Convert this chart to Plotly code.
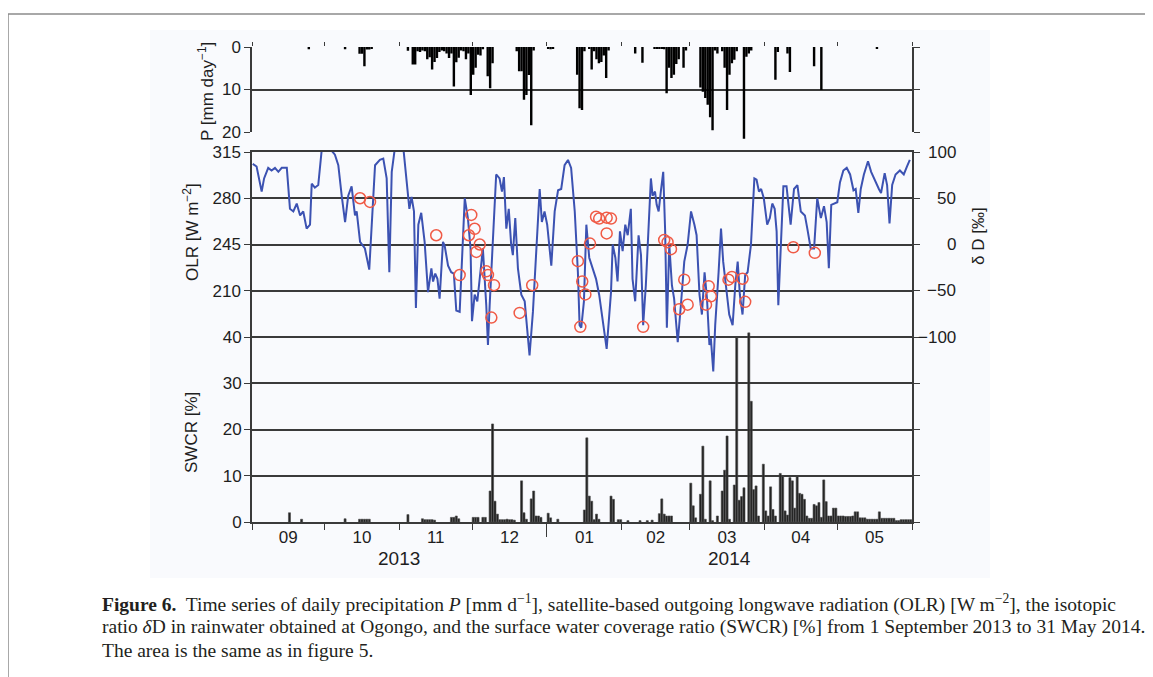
import pandas as pd
import plotly.graph_objects as go

START = pd.Timestamp("2013-09-01")
END = pd.Timestamp("2014-06-01")

# ---------------- data (days since 1 Sep 2013) ----------------
olr_day = [0.3, 1.9, 4.0, 5.0, 6.7, 8.1, 9.5, 10.9, 12.3, 14.4, 15.7, 17.1, 18.5, 19.9, 21.2, 22.6,
           24.0, 24.7, 26.0, 27.4, 28.8, 32.0, 34.3, 35.7, 37.1, 38.5, 39.8, 41.2, 42.6, 43.3, 44.7,
           46.7, 48.5, 49.5, 50.9, 52.9, 54.3, 55.7, 56.8, 57.8, 59.1, 62.6, 64.0, 65.1, 66.0, 67.0,
           67.8, 68.8, 70.0, 70.7, 71.4, 72.8, 74.2, 74.9, 75.8, 76.7, 77.6, 79.0, 79.7, 81.1, 82.4,
           83.5, 84.5, 85.9, 86.6, 88.0, 89.3, 90.4, 91.0, 92.1, 93.2, 94.2, 95.5, 96.9, 97.6, 98.3,
           99.7, 101.0, 102.4, 103.4, 104.2, 105.2, 106.2, 107.2, 107.9, 108.9, 110.0, 111.4, 112.8,
           114.1, 114.8, 116.2, 117.6, 119.0, 119.9, 121.0, 122.1, 123.8, 125.2, 126.6, 127.9, 129.3,
           130.7, 132.0, 133.5, 134.8, 135.5, 136.2, 137.3, 138.3, 139.5, 140.9, 142.3, 143.6, 145.7,
           146.7, 148.5, 149.2, 150.3, 151.2, 152.2, 153.3, 154.4, 155.4, 156.7, 157.4, 158.5, 159.9,
           160.9, 161.8, 162.9, 164.3, 165.0, 165.7, 166.7, 167.4, 168.2, 169.1, 170.1, 170.9, 171.6,
           172.6, 173.7, 174.6, 176.1, 177.4, 178.8, 180.2, 181.6, 183.0, 183.9, 185.1, 186.1, 187.2,
           188.2, 189.2, 189.8, 190.8, 191.6, 193.0, 194.0, 194.9, 196.0, 197.4, 198.8, 199.9, 200.9,
           201.8, 202.9, 204.0, 205.0, 206.4, 207.8, 208.7, 209.7, 210.6, 211.7, 213.1, 214.2, 215.2,
           216.2, 217.0, 217.7, 218.7, 219.8, 221.1, 222.8, 224.2, 225.6, 227.0, 228.7, 229.7, 231.1,
           232.5, 233.8, 235.3, 236.6, 237.7, 238.6, 239.6, 240.7, 242.1, 243.2, 244.6, 246.0, 247.4,
           248.8, 249.7, 250.8, 251.8, 253.1, 254.8, 256.1, 257.9, 259.3, 260.2, 261.7, 262.7, 263.7,
           264.8, 266.2, 268.0, 269.6, 270.9, 272.1]
olr_wm2 = [306, 304, 285, 295, 303, 301, 303, 300, 303, 303, 272, 270, 276, 267, 270, 257,
           260, 291, 288, 290, 316, 318, 313, 305, 282, 262, 282, 289, 267, 270, 247,
           242, 226, 260, 305, 309, 310, 295, 224, 300, 318, 318, 295, 272, 281, 270,
           197, 260, 269, 255, 247, 209, 227, 217, 223, 219, 204, 247, 244, 229, 224,
           223, 195, 194, 224, 280, 265, 242, 187, 207, 202, 219, 242, 199, 169, 199,
           245, 298, 295, 285, 296, 257, 272, 245, 237, 265, 227, 207, 202,
           171, 161, 194, 245, 287, 262, 270, 260, 229, 270, 286, 287, 305,
           309, 303, 270, 224, 184, 182, 202, 260, 235, 227, 219, 207, 179,
           166, 209, 245, 235, 217, 255, 240, 260, 252, 272, 219, 202, 252,
           237, 184, 214, 265, 295, 282, 285, 275, 270, 285, 300, 255, 182,
           245, 214, 204, 171, 199, 232, 245, 270, 260, 252, 207, 192, 224,
           204, 169, 174, 149, 184, 224, 257, 232, 212, 192, 184, 214, 232,
           207, 192, 222, 224, 245, 295, 294, 285, 287, 280, 260, 265, 276,
           272, 255, 199, 245, 289, 289, 260, 287, 290, 270, 267, 257, 242,
           242, 280, 265, 274, 262, 227, 275, 276, 277, 292, 301, 303, 298,
           286, 287, 269, 287, 298, 308, 300, 292, 287, 284, 299, 290, 261,
           290, 298, 301, 298, 304, 309]

dd_day = [44.7, 48.8, 76.2, 85.9, 89.7, 90.7, 92.1, 92.8, 94.2, 96.9, 97.6, 99.0, 100.1, 110.7,
          115.9, 134.8, 135.8, 136.6, 137.9, 139.8, 142.3, 143.6, 146.7, 146.7, 148.5, 161.8,
          170.5, 171.9, 173.3, 176.7, 178.8, 180.2, 187.8, 188.9, 189.8, 197.1, 198.5, 202.9,
          204.0, 223.9, 232.8]
dd_permil = [50, 46, 10, -33, 10, 32, 17, -8, 0, -29, -33, -79, -44, -74,
             -44, -18, -89, -40, -54, 1, 30, 28, 29, 12, 28, -89,
             5, 2.5, -5, -70, -38, -65, -65, -45, -56, -38, -35, -37,
             -62, -3, -9]

p_day = [23, 38, 44, 45, 46, 47, 48, 49, 64, 66, 67, 68, 69, 70, 71, 72, 73, 74, 75, 76, 77, 78,
         79, 80, 81, 82, 83, 84, 85, 86, 87, 88, 89, 90, 91, 92, 93, 94, 95, 97, 98, 99,
         109, 110, 111, 112, 113, 114, 115, 116, 122, 123, 124, 134, 135, 136, 137, 139, 140,
         141, 142, 143, 144, 145, 146, 147, 158, 161, 166, 167, 168, 169, 170, 171, 172, 173,
         174, 175, 176, 178, 179, 185, 186, 187, 188, 189, 190, 191, 192, 194, 195, 196, 197,
         198, 199, 200, 203, 204, 205, 206, 216, 217, 221, 222, 232, 235, 258]
p_mm = [0.5, 0.5, 1.6, 1.6, 4.5, 0.6, 0.6, 0.4, 0.9, 4.1, 4.1, 1.0, 1.2, 0.8, 1.0, 2.9, 2.4, 5.3,
        3.5, 2.6, 1.2, 0.8, 1.0, 1.5, 2.6, 1.5, 9.3, 3.6, 2.5, 0.8, 1.0, 2.9, 1.5, 11.3, 6.5,
        4.9, 1.8, 2.0, 0.5, 6.9, 9.7, 3.8,
        1.0, 5.7, 5.7, 12.4, 11.3, 6.6, 18.4, 0.8, 0.3, 0.5, 0.3, 6.5, 14.4, 14.8, 1.0, 0.3, 5.3,
        1.0, 2.9, 3.8, 3.5, 2.0, 7.3, 0.8, 1.5, 3.7, 0.3, 0.3, 0.4, 0.3, 0.5, 10.9, 4.9, 7.3,
        6.5, 4.0, 2.9, 4.9, 0.8, 9.5, 10.5, 12.0, 13.6, 16.5, 19.6, 0.8, 1.5, 1.0, 4.9, 14.8, 6.5,
        3.8, 3.0, 1.0, 21.6, 2.3, 1.5, 0.8, 7.7, 1.2, 1.5, 5.9, 4.5, 10.1, 0.4]

swcr_day = [15, 20, 38, 44, 45, 46, 47, 48, 64, 70, 71, 72, 73, 74, 75, 82, 83, 84, 85, 91, 92,
            93, 95, 96, 98, 99, 100, 101, 102, 103, 104, 105, 106, 107, 108, 111, 112, 113, 115,
            116, 117, 118, 119, 122, 123, 126, 137, 138, 139, 140, 141, 142, 143, 148, 149, 151,
            152, 155, 160, 163, 165, 168, 169, 170, 171, 172, 173, 181, 182, 183, 185, 186, 187,
            189, 190, 192, 194, 195, 196, 197, 199, 200, 201, 202, 203, 205, 206, 207, 208, 209,
            211, 212, 213, 214, 215, 216, 218, 219, 220, 221, 222, 223, 224, 225, 226, 227, 228,
            229, 230, 231, 232, 233, 234, 235, 236, 237, 238, 239, 240, 241, 242, 243, 244, 245,
            246, 247, 248, 249, 250, 251, 252, 253, 254, 255, 256, 257, 258, 259, 260, 261, 262,
            263, 264, 265, 266, 267, 268, 269, 270, 271, 272]
swcr_pct = [2.0, 0.6, 0.7, 0.6, 0.6, 0.6, 0.6, 0.6, 1.6, 0.7, 0.5, 0.5, 0.5, 0.5, 0.4, 1.0, 1.0,
            1.3, 0.7, 1.0, 1.0, 1.0, 1.0, 1.0, 6.7, 21.2, 4.5, 1.7, 0.5, 0.5, 0.5, 0.6, 0.5, 0.5,
            0.4, 8.9, 2.0, 0.6, 5.0, 6.7, 1.3, 1.3, 1.0, 1.9, 0.9, 0.6, 2.6, 18.2, 5.6, 4.5, 0.5,
            1.7, 0.6, 5.6, 4.9, 0.5, 0.5, 0.3, 0.3, 0.3, 0.4, 1.8, 5.0, 1.7, 1.3, 1.3, 1.3, 8.4,
            3.5, 0.9, 6.0, 16.4, 0.6, 8.9, 0.3, 1.3, 6.7, 11.2, 18.6, 0.6, 8.0, 39.8, 4.7, 5.5,
            7.4, 40.9, 26.1, 7.0, 7.8, 1.3, 12.5, 2.4, 1.3, 7.6, 2.7, 1.3, 10.5, 9.9, 2.4, 1.5,
            9.6, 8.9, 3.0, 9.9, 6.2, 6.0, 4.9, 1.3, 0.8, 0.8, 3.8, 3.5, 4.2, 1.0, 9.1, 4.4, 1.3,
            1.3, 3.0, 3.0, 1.3, 1.3, 1.3, 1.2, 1.2, 1.2, 1.3, 2.2, 2.2, 0.9, 0.9, 0.9, 0.6, 0.6,
            0.6, 0.6, 0.6, 2.2, 0.8, 0.8, 0.8, 0.8, 0.8, 0.8, 0.3, 0.3, 0.5, 0.5, 0.5, 0.5, 0.5]

olr_ticks = [210, 245, 280, 315]
olr_grid = [35, 70, 105, 140, 175, 210, 245, 280, 315]
swcr_ticks = [0, 10, 20, 30, 40]
dd_ticks = [-100, -50, 0, 50, 100]
p_ticks = [0, 10, 20]
P_AXIS_MAX = 20          # labelled extent of the precipitation axis
P_DRAW_MAX = 22          # bars may run slightly past the 20 mm line, as in the original


def to_dates(days, offset_days=0.0):
    return [START + pd.Timedelta(days=d + offset_days) for d in days]


DAY_MS = 86400000
# page body has an 8px margin; the figure is placed at (8, 8) in the window
PAGE_OFF = 8
W, H = 1153 - PAGE_OFF, 677 - PAGE_OFF
PLOT_L, PLOT_R, PLOT_T, PLOT_B = 252, 912, 47, 522   # window pixels of the plotting area
ML = PLOT_L - PAGE_OFF
MR = W - (PLOT_R - PAGE_OFF)
MT = PLOT_T - PAGE_OFF
MB = H - (PLOT_B - PAGE_OFF)
PW, PH = W - ML - MR, H - MT - MB


def px_x(px):
    return (px - PLOT_L) / PW


def px_y(py):
    return (PLOT_B - py) / PH


GRID = "#3a3a3a"
TXT = "#1e1e1e"
SANS = "Liberation Sans, Arial, sans-serif"
SERIF = "Liberation Serif, Times New Roman, serif"

P_TOP_PX, P_BOT_PX = 47, 132
p_bottom = px_y(P_BOT_PX)
p_draw_bottom = px_y(P_TOP_PX + (P_BOT_PX - P_TOP_PX) * P_DRAW_MAX / P_AXIS_MAX)
main_top = px_y(152)

fig = go.Figure()

fig.add_trace(go.Bar(x=to_dates(p_day, 0.5), y=p_mm, xaxis="x2", yaxis="y5",
                     width=DAY_MS, marker=dict(color="#000000", line=dict(width=0)),
                     showlegend=False))
fig.add_trace(go.Bar(x=to_dates(swcr_day, 0.5), y=swcr_pct, xaxis="x", yaxis="y3",
                     width=DAY_MS * 0.85,
                     marker=dict(color="#222222", line=dict(color="#4a4a4a", width=0.6)),
                     showlegend=False))
fig.add_trace(go.Scatter(x=to_dates(olr_day), y=olr_wm2, xaxis="x", yaxis="y2", mode="lines",
                         line=dict(color="#3c52b2", width=2), showlegend=False))
fig.add_trace(go.Scatter(x=to_dates(dd_day), y=dd_permil, xaxis="x", yaxis="y4", mode="markers",
                         marker=dict(symbol="circle-open", size=11, color="#f05a46",
                                     line=dict(width=1.5, color="#f05a46")),
                         showlegend=False))
# empty traces so the frame-only axes are drawn
fig.add_trace(go.Scatter(x=[], y=[], xaxis="x2", yaxis="y", showlegend=False))
fig.add_trace(go.Scatter(x=[], y=[], xaxis="x3", yaxis="y2", showlegend=False))

axis_common = dict(showline=True, linecolor=GRID, linewidth=1.5, tickcolor=GRID,
                   tickfont=dict(family=SANS, size=17, color=TXT))

fig.update_layout(
    width=W, height=H,
    margin=dict(l=ML, r=MR, t=MT, b=MB),
    paper_bgcolor="#ffffff",
    plot_bgcolor="rgba(0,0,0,0)",
    barmode="overlay",
    xaxis=dict(type="date", range=[START, END], domain=[0, 1], anchor="y2",
               tick0="2013-09-01", dtick="M1", tickformat="%m", ticklabelmode="period",
               ticks="outside", ticklen=6, ticklabelstandoff=-7, showgrid=False, mirror=True,
               **axis_common),
    xaxis2=dict(type="date", range=[START, END], domain=[0, 1], anchor="y", matches="x",
                side="top", tick0="2013-09-01", dtick="M1", ticks="outside", ticklen=4,
                showticklabels=False, showgrid=False, showline=False, tickcolor=GRID),
    xaxis3=dict(type="date", range=[START, END], overlaying="x", anchor="y2", side="bottom",
                tickvals=[pd.Timestamp("2014-01-01")], ticks="outside", ticklen=14,
                tickwidth=1.2, tickcolor=GRID, showticklabels=False, showgrid=False,
                showline=False),
    yaxis=dict(domain=[p_bottom, 1], range=[P_AXIS_MAX, 0], anchor="x2", tickvals=p_ticks,
               ticks="outside", ticklen=6, showgrid=True, gridcolor=GRID, gridwidth=1.5,
               zeroline=False, mirror="ticks", **axis_common),
    yaxis5=dict(domain=[p_draw_bottom, 1], range=[P_DRAW_MAX, 0], anchor="x2",
                visible=False, showgrid=False, zeroline=False),
    yaxis2=dict(domain=[0, main_top], range=[35, 315], anchor="x", tickvals=olr_grid,
                ticktext=[str(v) if v in olr_ticks else "" for v in olr_grid],
                ticks="outside", ticklen=6, showgrid=True, gridcolor=GRID, gridwidth=1.5,
                zeroline=False, mirror="ticks", **axis_common),
    yaxis3=dict(range=[0, 80], overlaying="y2", side="left", anchor="x", tickvals=swcr_ticks,
                ticks="outside", ticklen=6, tickcolor=GRID, showgrid=False, zeroline=False,
                showline=False, tickfont=dict(family=SANS, size=17, color=TXT)),
    yaxis4=dict(range=[-300, 100], overlaying="y2", side="right", anchor="x",
                showticklabels=False, ticks="", showgrid=False, zeroline=False, showline=False),
)

ann = []
# right-hand delta D tick labels (right aligned)
for v in dd_ticks:
    ann.append(dict(x=px_x(958), xref="paper", y=v, yref="y4", xanchor="right",
                    yanchor="middle", showarrow=False, text=str(v).replace("-", "\u2212"),
                    font=dict(family=SANS, size=17, color=TXT)))
# year labels centred under each year's months
y2013_mid = START + (pd.Timestamp("2014-01-01") - START) / 2
y2014_mid = pd.Timestamp("2014-01-01") + (END - pd.Timestamp("2014-01-01")) / 2
for xm, t in [(y2013_mid, "2013"), (y2014_mid, "2014")]:
    ann.append(dict(x=xm, xref="x", y=px_y(558), yref="paper", showarrow=False, text=t,
                    xanchor="center", yanchor="middle",
                    font=dict(family=SANS, size=19, color=TXT)))
# axis titles
titles = [
    ("P [mm day<sup>\u22121</sup>]", 206, 92),
    ("OLR [W m<sup>\u22122</sup>]", 191, 232),
    ("SWCR [%]", 191, 433),
    ("\u03b4 D [\u2030]", 978, 236),
]
for t, xp, yp in titles:
    ann.append(dict(x=px_x(xp), xref="paper", y=px_y(yp), yref="paper", showarrow=False,
                    text=t, textangle=-90, xanchor="center", yanchor="middle",
                    font=dict(family=SANS, size=17, color=TXT)))
# caption
caption = [
    "<b>Figure 6.</b>  Time series of daily precipitation <i>P</i> [mm d<sup>\u22121</sup>], "
    "satellite-based outgoing longwave radiation (OLR) [W m<sup>\u22122</sup>], the isotopic",
    "ratio <i>\u03b4</i>D in rainwater obtained at Ogongo, and the surface water coverage ratio "
    "(SWCR) [%] from 1 September 2013 to 31 May 2014.",
    "The area is the same as in figure 5.",
]
for line, yp in zip(caption, [603, 627, 651]):
    ann.append(dict(x=px_x(100), xref="paper", y=px_y(yp), yref="paper", showarrow=False,
                    text=line, xanchor="left", yanchor="middle",
                    font=dict(family=SERIF, size=19.5, color="#231f20")))
fig.update_layout(annotations=ann)

fig.update_layout(shapes=[
    dict(type="rect", xref="paper", yref="paper", x0=px_x(150), x1=px_x(990),
         y0=px_y(578), y1=px_y(30), fillcolor="#f9fafd", line=dict(width=0), layer="below"),
    dict(type="rect", xref="paper", yref="paper", x0=px_x(8), x1=px_x(1147),
         y0=px_y(700), y1=px_y(14), line=dict(color="#8c8c8c", width=1.5),
         fillcolor="rgba(0,0,0,0)", layer="above"),
])

fig.write_html("out.html")
